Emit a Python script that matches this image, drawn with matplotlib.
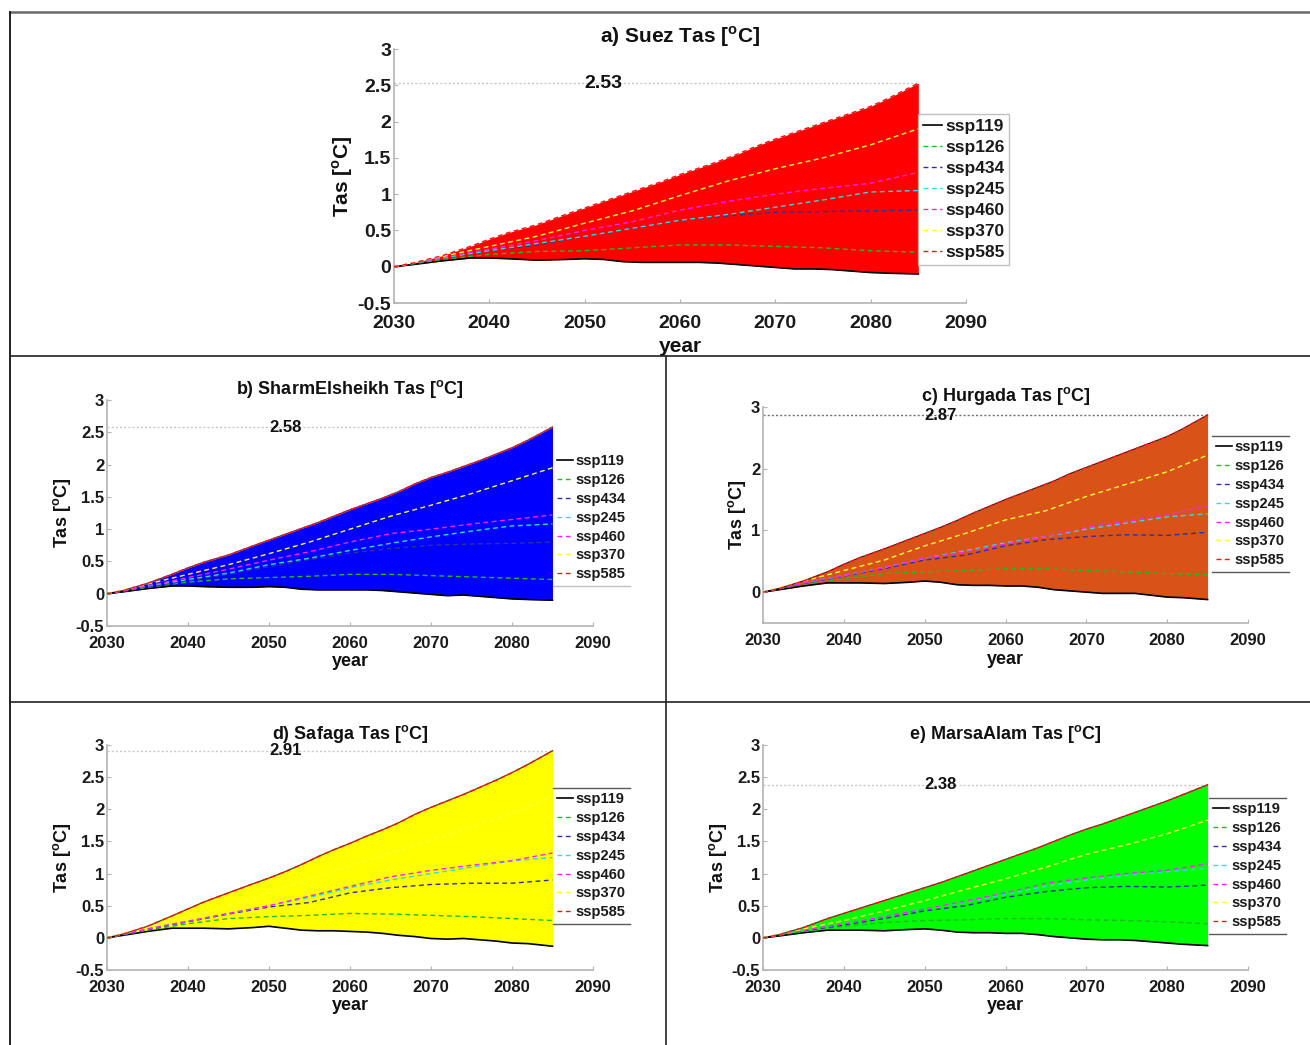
import matplotlib
matplotlib.use("Agg")
import matplotlib.pyplot as plt
from matplotlib.lines import Line2D

plt.rcParams['font.family'] = ['Liberation Sans', 'DejaVu Sans']
plt.rcParams['font.weight'] = 'bold'
plt.rcParams['axes.labelweight'] = 'bold'
plt.rcParams['axes.titleweight'] = 'bold'
plt.rcParams['mathtext.fontset'] = 'custom'
plt.rcParams['mathtext.rm'] = 'Liberation Sans:bold'
plt.rcParams['mathtext.bf'] = 'Liberation Sans:bold'

# ---------------------------------------------------------------- data
SCENARIOS = ['ssp119', 'ssp126', 'ssp434', 'ssp245', 'ssp460', 'ssp370', 'ssp585']

# envelope years (lowest / highest scenario) and 5-year years for the others
ENV_YEARS = [2030, 2032, 2035, 2038, 2040, 2042, 2045, 2048, 2050, 2052, 2054, 2056, 2058,
             2060, 2062, 2064, 2066, 2068, 2070, 2072, 2074, 2076, 2078, 2080, 2082, 2085]
YEARS5 = [2030, 2035, 2040, 2045, 2050, 2055, 2060, 2065, 2070, 2075, 2080, 2085]

# a) Suez
SUEZ_119 = [0, 0.03, 0.08, 0.12, 0.12, 0.11, 0.09, 0.10, 0.11, 0.10, 0.07, 0.06, 0.06,
            0.06, 0.06, 0.05, 0.03, 0.01, -0.01, -0.03, -0.03, -0.04, -0.06, -0.08, -0.09, -0.10]
SUEZ_585 = [0, 0.05, 0.15, 0.28, 0.38, 0.47, 0.58, 0.72, 0.81, 0.90, 0.99, 1.08, 1.17,
            1.27, 1.36, 1.45, 1.55, 1.66, 1.76, 1.85, 1.94, 2.03, 2.12, 2.21, 2.33, 2.53]
SUEZ_126 = [0, 0.10, 0.17, 0.21, 0.22, 0.26, 0.30, 0.30, 0.28, 0.26, 0.22, 0.20]
SUEZ_434 = [0, 0.12, 0.22, 0.30, 0.42, 0.53, 0.64, 0.70, 0.75, 0.76, 0.77, 0.78]
SUEZ_245 = [0, 0.12, 0.22, 0.32, 0.42, 0.53, 0.64, 0.72, 0.82, 0.92, 1.03, 1.05]
SUEZ_460 = [0, 0.13, 0.24, 0.36, 0.50, 0.62, 0.78, 0.90, 1.00, 1.08, 1.15, 1.30]
SUEZ_370 = [0, 0.14, 0.28, 0.42, 0.60, 0.77, 0.98, 1.18, 1.35, 1.50, 1.68, 1.90]

# b) Sharm El Sheikh
SHARM_119 = [0, 0.03, 0.08, 0.12, 0.12, 0.11, 0.10, 0.10, 0.11, 0.10, 0.07, 0.06, 0.06,
             0.06, 0.06, 0.05, 0.03, 0.01, -0.01, -0.03, -0.02, -0.04, -0.06, -0.08, -0.09, -0.10]
SHARM_585 = [0, 0.05, 0.16, 0.30, 0.40, 0.49, 0.60, 0.74, 0.83, 0.92, 1.01, 1.10, 1.20,
             1.30, 1.39, 1.48, 1.58, 1.70, 1.80, 1.88, 1.97, 2.06, 2.16, 2.26, 2.38, 2.58]
SHARM_126 = [0, 0.10, 0.18, 0.23, 0.25, 0.27, 0.30, 0.30, 0.28, 0.26, 0.24, 0.22]
SHARM_434 = [0, 0.11, 0.20, 0.30, 0.42, 0.53, 0.63, 0.70, 0.75, 0.77, 0.78, 0.80]
SHARM_245 = [0, 0.12, 0.22, 0.32, 0.45, 0.55, 0.67, 0.78, 0.88, 0.97, 1.05, 1.08]
SHARM_460 = [0, 0.12, 0.25, 0.38, 0.52, 0.65, 0.80, 0.93, 1.00, 1.08, 1.15, 1.22]
SHARM_370 = [0, 0.15, 0.30, 0.45, 0.62, 0.80, 1.00, 1.20, 1.37, 1.55, 1.75, 1.95]

# c) Hurghada
HURG_119 = [0, 0.04, 0.10, 0.15, 0.15, 0.15, 0.14, 0.16, 0.18, 0.16, 0.12, 0.11, 0.11,
            0.10, 0.10, 0.08, 0.04, 0.02, 0.00, -0.02, -0.02, -0.02, -0.05, -0.08, -0.09, -0.12]
HURG_585 = [0, 0.06, 0.18, 0.33, 0.45, 0.56, 0.70, 0.85, 0.95, 1.05, 1.16, 1.28, 1.39,
            1.50, 1.60, 1.70, 1.80, 1.92, 2.02, 2.12, 2.22, 2.32, 2.42, 2.52, 2.65, 2.87]
HURG_126 = [0, 0.13, 0.22, 0.30, 0.33, 0.35, 0.38, 0.38, 0.35, 0.33, 0.30, 0.28]
HURG_434 = [0, 0.14, 0.26, 0.38, 0.52, 0.60, 0.75, 0.85, 0.90, 0.93, 0.92, 0.97]
HURG_245 = [0, 0.15, 0.27, 0.40, 0.55, 0.67, 0.80, 0.90, 1.02, 1.12, 1.22, 1.27]
HURG_460 = [0, 0.15, 0.27, 0.40, 0.55, 0.65, 0.78, 0.90, 1.05, 1.15, 1.25, 1.40]
HURG_370 = [0, 0.18, 0.35, 0.52, 0.75, 0.95, 1.17, 1.32, 1.55, 1.75, 1.95, 2.22]

# d) Safaga
SAF_119 = [0, 0.04, 0.10, 0.15, 0.15, 0.15, 0.14, 0.16, 0.18, 0.15, 0.12, 0.11, 0.11,
           0.10, 0.09, 0.07, 0.04, 0.02, -0.01, -0.02, -0.01, -0.03, -0.05, -0.08, -0.09, -0.13]
SAF_585 = [0, 0.06, 0.18, 0.34, 0.45, 0.56, 0.70, 0.84, 0.93, 1.03, 1.14, 1.26, 1.37,
           1.47, 1.58, 1.68, 1.79, 1.92, 2.03, 2.13, 2.23, 2.34, 2.45, 2.57, 2.70, 2.91]
SAF_126 = [0, 0.12, 0.22, 0.30, 0.33, 0.35, 0.38, 0.37, 0.35, 0.33, 0.30, 0.27]
SAF_434 = [0, 0.13, 0.25, 0.37, 0.48, 0.55, 0.70, 0.78, 0.83, 0.85, 0.85, 0.90]
SAF_245 = [0, 0.14, 0.26, 0.38, 0.50, 0.63, 0.78, 0.90, 1.00, 1.10, 1.20, 1.25]
SAF_460 = [0, 0.14, 0.26, 0.38, 0.50, 0.65, 0.80, 0.95, 1.05, 1.13, 1.20, 1.32]
SAF_370 = [0, 0.17, 0.33, 0.50, 0.70, 0.90, 1.12, 1.32, 1.52, 1.72, 1.95, 2.20]

# e) Marsa Alam
MARSA_119 = [0, 0.03, 0.08, 0.12, 0.12, 0.12, 0.11, 0.13, 0.14, 0.12, 0.09, 0.08, 0.08,
             0.07, 0.07, 0.05, 0.02, 0.00, -0.02, -0.03, -0.03, -0.04, -0.06, -0.08, -0.10, -0.12]
MARSA_585 = [0, 0.05, 0.16, 0.30, 0.38, 0.46, 0.58, 0.70, 0.78, 0.86, 0.95, 1.04, 1.13,
             1.22, 1.31, 1.40, 1.50, 1.60, 1.69, 1.77, 1.86, 1.95, 2.04, 2.13, 2.23, 2.38]
MARSA_126 = [0, 0.10, 0.18, 0.24, 0.27, 0.28, 0.30, 0.30, 0.28, 0.27, 0.25, 0.22]
MARSA_434 = [0, 0.11, 0.20, 0.30, 0.42, 0.50, 0.63, 0.72, 0.78, 0.80, 0.79, 0.82]
MARSA_245 = [0, 0.12, 0.22, 0.33, 0.45, 0.56, 0.68, 0.80, 0.90, 0.98, 1.03, 1.08]
MARSA_460 = [0, 0.12, 0.22, 0.33, 0.45, 0.57, 0.70, 0.85, 0.93, 1.00, 1.05, 1.15]
MARSA_370 = [0, 0.14, 0.27, 0.42, 0.58, 0.75, 0.92, 1.10, 1.30, 1.45, 1.62, 1.83]

TITLES = ['a) Suez', 'b) SharmElsheikh', 'c) Hurgada', 'd) Safaga', 'e) MarsaAlam']
FILL_COLORS = ['#ff0000', '#0000ff', '#d95319', '#ffff00', '#00ff00']
X_TICKS = [2030, 2040, 2050, 2060, 2070, 2080, 2090]
Y_TICKS_HALF = [-0.5, 0, 0.5, 1, 1.5, 2, 2.5, 3]
Y_TICKS_WHOLE = [0, 1, 2, 3]

LINE_COLORS = {'ssp119': '#000000', 'ssp126': '#22bb22', 'ssp434': '#3030a0',
               'ssp245': '#30dede', 'ssp460': '#ff20ff', 'ssp370': '#ffff30',
               'ssp585': '#ff1010'}

panels = [
    (SUEZ_119, SUEZ_585, [SUEZ_126, SUEZ_434, SUEZ_245, SUEZ_460, SUEZ_370]),
    (SHARM_119, SHARM_585, [SHARM_126, SHARM_434, SHARM_245, SHARM_460, SHARM_370]),
    (HURG_119, HURG_585, [HURG_126, HURG_434, HURG_245, HURG_460, HURG_370]),
    (SAF_119, SAF_585, [SAF_126, SAF_434, SAF_245, SAF_460, SAF_370]),
    (MARSA_119, MARSA_585, [MARSA_126, MARSA_434, MARSA_245, MARSA_460, MARSA_370]),
]

# ---------------------------------------------------------------- layout
W, H = 1310, 1045
fig = plt.figure(figsize=(W / 100, H / 100), dpi=100)
fig.patch.set_facecolor('white')

# pixel boxes (left, top, right, bottom) of each axes
RECTS = [(394, 49, 966, 303), (107, 400, 593, 626), (763, 407, 1248, 623),
         (107, 745, 593, 970), (763, 745, 1248, 970)]
# legend upper-left corner in pixels
LEG_POS = [(918, 114), (553, 450), (1212, 436), (553, 788), (1209, 798)]
BIG = dict(tick=14, title=15, label=15, legend=12.5, note=14, xpad=9, lpad=3)
SMALL = dict(tick=12, title=13, label=13, legend=10.5, note=12, xpad=7, lpad=2)
STYLE = [BIG, SMALL, SMALL, SMALL, SMALL]
EDGE_TOP = [None, '#7a2a4a', '#4a1a0a', '#6a4a10', '#3a4a10']
MAXLINE = ['#c8c8c8', '#c8c8c8', '#707070', '#c8c8c8', '#c8c8c8']

legends = []
for i, (low, high, mids) in enumerate(panels):
    l, t, r, b = RECTS[i]
    st = STYLE[i]
    ax = fig.add_axes([l / W, 1 - b / H, (r - l) / W, (b - t) / H])

    ax.fill_between(ENV_YEARS, low, high, color=FILL_COLORS[i], lw=0, zorder=1)
    if EDGE_TOP[i]:
        ax.plot(ENV_YEARS, high, color=EDGE_TOP[i], lw=1.0, zorder=2)

    handles = []
    h, = ax.plot(ENV_YEARS, low, color='#000000', lw=1.2, zorder=3)
    handles.append(h)
    for name, vals in zip(SCENARIOS[1:6], mids):
        h, = ax.plot(YEARS5, vals, color=LINE_COLORS[name], lw=1.0,
                     dashes=(3.5, 2.5), zorder=3)
        handles.append(h)
    h, = ax.plot(ENV_YEARS, high, color=LINE_COLORS['ssp585'], lw=1.0,
                 dashes=(3.5, 2.5), zorder=3)
    handles.append(h)

    peak = max(high)
    ax.plot([ENV_YEARS[0], ENV_YEARS[-1]], [peak, peak], color=MAXLINE[i],
            lw=1.0, ls=(0, (1.5, 1.5)), zorder=0.5)
    ax.text(2050, peak, f'{peak:.2f}', ha='left', va='center',
            fontsize=st['note'], fontweight='bold', color='#111111', zorder=4)

    yt = Y_TICKS_WHOLE if i == 2 else Y_TICKS_HALF
    ax.set_xlim(2030, 2090)
    ax.set_ylim(-0.5, 3)
    ax.set_xticks(X_TICKS)
    ax.set_yticks(yt)
    ax.set_yticklabels([f'{v:g}' for v in yt])
    for s in ('top', 'right'):
        ax.spines[s].set_visible(False)
    for s in ('left', 'bottom'):
        ax.spines[s].set_color('#b4b4b4')
        ax.spines[s].set_linewidth(1.2)
    ax.tick_params(direction='in', length=3, width=0.8, color='#b4b4b4',
                   labelsize=st['tick'], labelcolor='#1a1a1a')
    ax.tick_params(axis='x', pad=st['xpad'])
    ax.tick_params(axis='y', pad=2)
    ax.set_facecolor('none')

    ax.set_title(TITLES[i] + r' Tas [$^{\mathrm{o}}$C]', fontsize=st['title'],
                 fontweight='bold', pad=3, color='#111111')
    ax.set_xlabel('year', fontsize=st['label'], fontweight='bold',
                  labelpad=st['lpad'], color='#111111')
    ax.set_ylabel(r'Tas [$^{\mathrm{o}}$C]', fontsize=st['label'],
                  fontweight='bold', labelpad=2, color='#111111')

    lx, ly = LEG_POS[i]
    leg = ax.legend(handles, SCENARIOS, loc='upper left',
                    bbox_to_anchor=(lx / W, 1 - ly / H),
                    bbox_transform=fig.transFigure, borderaxespad=0,
                    prop={'weight': 'bold', 'size': st['legend']},
                    handlelength=1.1, handletextpad=0.15, labelspacing=0.33,
                    borderpad=0.3, frameon=(i == 0), fancybox=False)
    if i == 0:
        leg.get_frame().set_edgecolor('#b0b0b0')
        leg.get_frame().set_linewidth(1.0)
    for txt in leg.get_texts():
        txt.set_color('#1a1a1a')
    legends.append(leg)

# rules above and below the legends of the lower panels
fig.canvas.draw()
inv = fig.transFigure.inverted()
for i, leg in enumerate(legends[1:], start=1):
    bb = leg.get_window_extent()
    (x0, y0), (x1, y1) = inv.transform([(bb.x0, bb.y0), (bb.x1, bb.y1)])
    if i != 1:
        fig.add_artist(Line2D([x0, x1], [y1, y1], transform=fig.transFigure,
                              color='#5a5a5a', lw=1.0))
    fig.add_artist(Line2D([x0, x1], [y0, y0], transform=fig.transFigure,
                          color='#5a5a5a' if i != 1 else '#c0c0c0', lw=1.0))

# panel frame lines


def hline(y, x0, x1, color='#222222', lw=1.2):
    fig.add_artist(Line2D([x0 / W, x1 / W], [1 - y / H, 1 - y / H],
                          transform=fig.transFigure, color=color, lw=lw))


def vline(x, y0, y1, color='#222222', lw=1.2):
    fig.add_artist(Line2D([x / W, x / W], [1 - y0 / H, 1 - y1 / H],
                          transform=fig.transFigure, color=color, lw=lw))


hline(12, 10, W, color='#6a6a6a', lw=1.8)
vline(10, 12, H, color='#111111', lw=1.3)
hline(356, 10, W)
vline(666, 356, H)
hline(702, 10, W)

fig.savefig('out.png', dpi=100, facecolor='white')
